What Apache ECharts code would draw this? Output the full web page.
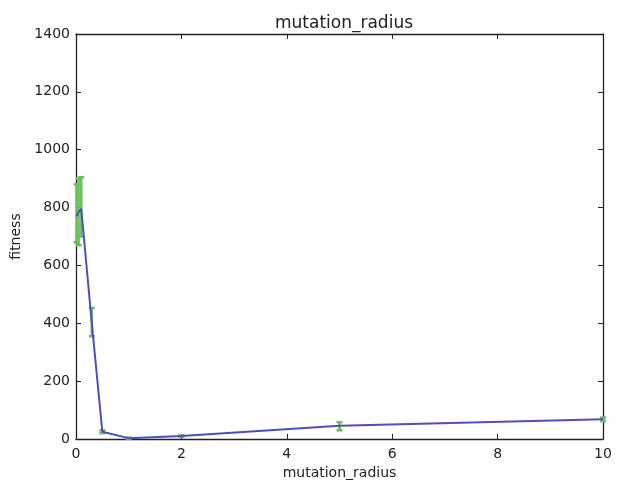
<!DOCTYPE html>
<html>
<head>
<meta charset="utf-8">
<script src="https://cdn.jsdelivr.net/npm/echarts@6/dist/echarts.min.js"></script>
<style>html,body{margin:0;padding:0;background:#fff}#c{width:617px;height:481px}</style>
</head>
<body>
<div id="c"></div>
<script>
const xValues = [0.01, 0.05, 0.1, 0.3, 0.5, 1, 2, 5, 10];
const fitness = [770, 785, 795, 400, 25, 3, 10, 46, 68];
const errLow  = [680, 670, 700, 355, 20, 1, 7, 30, 62];
const errHigh = [880, 900, 905, 453, 30, 5, 13, 58, 74];
const xTicks = [0, 2, 4, 6, 8, 10];
const yTicks = [0, 200, 400, 600, 800, 1000, 1200, 1400];

const font = 'DejaVu Sans';
const chart = echarts.init(document.getElementById('c'), null, {renderer: 'canvas'});
const lineData = xValues.map((x, i) => [x, fitness[i]]);
const errData = xValues.map((x, i) => [x, errLow[i], errHigh[i]]);
const axisCommon = {
  axisLine: {show: true, onZero: false, lineStyle: {color: '#222', width: 1.3}},
  axisTick: {show: true, inside: true, length: 5, lineStyle: {color: '#222'}},
  splitLine: {show: false}
};
const plain = v => String(v);
chart.setOption({
  animation: false,
  title: {
    text: 'mutation_radius', left: 339, top: 10, textAlign: 'center',
    textStyle: {fontFamily: font, fontSize: 17, fontWeight: 'normal', color: '#222'}
  },
  grid: {left: 76, right: 14, top: 34, bottom: 42, containLabel: false, outerBoundsMode: 'none'},
  xAxis: [
    Object.assign({
      type: 'value', min: xTicks[0], max: xTicks[xTicks.length - 1], interval: 2,
      name: 'mutation_radius', nameLocation: 'middle', nameGap: 25,
      nameTextStyle: {fontFamily: font, fontSize: 14, color: '#222'},
      axisLabel: {fontFamily: font, fontSize: 14, color: '#222', margin: 8, formatter: plain}
    }, axisCommon),
    Object.assign({
      type: 'value', position: 'top', min: 0, max: 10, interval: 2,
      axisLabel: {show: false}
    }, axisCommon)
  ],
  yAxis: [
    Object.assign({
      type: 'value', min: yTicks[0], max: yTicks[yTicks.length - 1], interval: 200,
      name: 'fitness', nameLocation: 'middle', nameGap: 51,
      nameTextStyle: {fontFamily: font, fontSize: 14, color: '#222'},
      axisLabel: {fontFamily: font, fontSize: 14, color: '#222', margin: 6, formatter: plain}
    }, axisCommon),
    Object.assign({
      type: 'value', position: 'right', min: 0, max: 1400, interval: 200,
      axisLabel: {show: false}
    }, axisCommon)
  ],
  series: [
    {
      type: 'custom',
      xAxisIndex: 0, yAxisIndex: 0,
      data: errData,
      z: 2,
      renderItem: function (params, api) {
        const x = api.value(0);
        const lo = api.coord([x, api.value(1)]);
        const hi = api.coord([x, api.value(2)]);
        const cap = 3;
        const style = {stroke: '#6dbf5c', lineWidth: 2.5};
        return {
          type: 'group',
          children: [
            {type: 'line', shape: {x1: lo[0], y1: lo[1], x2: hi[0], y2: hi[1]}, style: style},
            {type: 'line', shape: {x1: lo[0] - cap, y1: lo[1], x2: lo[0] + cap, y2: lo[1]}, style: style},
            {type: 'line', shape: {x1: hi[0] - cap, y1: hi[1], x2: hi[0] + cap, y2: hi[1]}, style: style}
          ]
        };
      }
    },
    {
      type: 'line',
      xAxisIndex: 0, yAxisIndex: 0,
      data: lineData,
      showSymbol: false,
      symbol: 'none',
      z: 3,
      lineStyle: {color: '#4b4fc4', width: 2}
    }
  ]
});
</script>
</body>
</html>
